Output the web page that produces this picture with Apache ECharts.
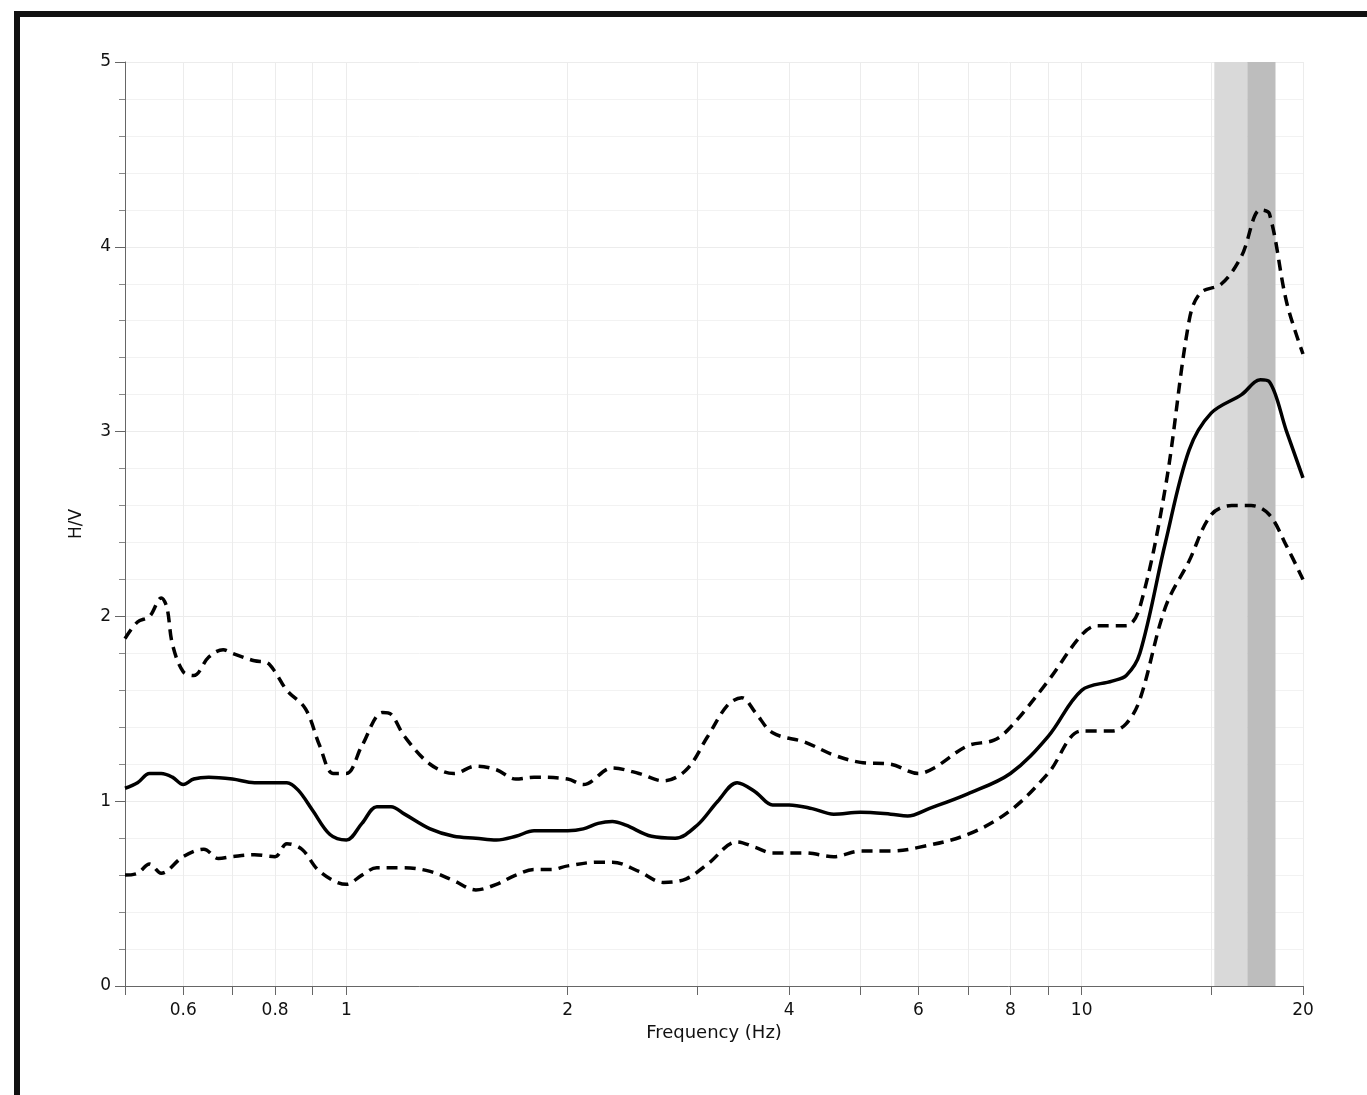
<!DOCTYPE html>
<html>
<head>
<meta charset="UTF-8">
<title>H/V</title>
<script src="https://cdn.jsdelivr.net/npm/echarts@6/dist/echarts.min.js"></script>
<style>
    body { margin: 0; padding: 0; background: #fff; }
    #chart { width: 1367px; height: 1095px; }
</style>
</head>
<body>
<div id="chart"></div>
<script>
// frequency (Hz) / H/V values
var meanPts = [[0.5,1.07],[0.52,1.1],[0.54,1.15],[0.56,1.15],[0.58,1.13],[0.6,1.09],[0.62,1.12],[0.65,1.13],[0.7,1.12],[0.75,1.1],[0.8,1.1],[0.83,1.1],[0.86,1.06],[0.9,0.95],[0.95,0.82],[1.0,0.79],[1.05,0.88],[1.1,0.97],[1.15,0.97],[1.2,0.93],[1.3,0.85],[1.4,0.81],[1.5,0.8],[1.6,0.79],[1.7,0.81],[1.8,0.84],[1.9,0.84],[2.0,0.84],[2.1,0.85],[2.2,0.88],[2.3,0.89],[2.4,0.87],[2.6,0.81],[2.8,0.8],[3.0,0.87],[3.2,1.0],[3.4,1.1],[3.6,1.05],[3.8,0.98],[4.0,0.98],[4.3,0.96],[4.6,0.93],[5.0,0.94],[5.5,0.93],[5.8,0.92],[6.2,0.96],[7,1.04],[8,1.15],[9,1.35],[10,1.6],[11,1.65],[11.5,1.68],[12,1.8],[13,2.4],[14,2.9],[15,3.1],[16.5,3.2],[17.5,3.28],[18,3.27],[19,3.0],[20,2.75]];
var upperPts = [[0.5,1.88],[0.52,1.97],[0.54,2.0],[0.56,2.1],[0.57,2.05],[0.58,1.85],[0.6,1.7],[0.62,1.68],[0.65,1.78],[0.68,1.82],[0.7,1.8],[0.75,1.76],[0.78,1.75],[0.8,1.7],[0.83,1.6],[0.88,1.5],[0.92,1.3],[0.96,1.15],[1.0,1.15],[1.05,1.3],[1.12,1.48],[1.15,1.47],[1.2,1.35],[1.3,1.2],[1.4,1.15],[1.5,1.19],[1.6,1.17],[1.7,1.12],[1.8,1.13],[2.0,1.12],[2.1,1.09],[2.3,1.18],[2.5,1.15],[2.7,1.11],[2.9,1.17],[3.1,1.35],[3.3,1.52],[3.45,1.56],[3.6,1.48],[3.8,1.37],[4.2,1.32],[4.6,1.25],[5.0,1.21],[5.5,1.2],[6.0,1.15],[6.3,1.18],[7,1.3],[7.6,1.33],[8,1.4],[9,1.65],[10,1.9],[10.5,1.95],[11.5,1.95],[12,2.05],[13,2.7],[14,3.6],[14.5,3.75],[15.5,3.8],[16.5,3.95],[17.5,4.2],[18,4.18],[19,3.7],[20,3.42]];
var lowerPts = [[0.5,0.6],[0.52,0.61],[0.54,0.66],[0.56,0.61],[0.6,0.7],[0.64,0.74],[0.67,0.69],[0.7,0.7],[0.75,0.71],[0.8,0.7],[0.83,0.77],[0.87,0.74],[0.92,0.62],[1.0,0.55],[1.05,0.6],[1.1,0.64],[1.2,0.64],[1.3,0.62],[1.4,0.57],[1.5,0.52],[1.6,0.55],[1.7,0.6],[1.8,0.63],[1.9,0.63],[2.0,0.65],[2.2,0.67],[2.3,0.67],[2.5,0.62],[2.7,0.56],[2.9,0.58],[3.1,0.66],[3.4,0.78],[3.6,0.75],[3.8,0.72],[4.2,0.72],[4.6,0.7],[5,0.73],[5.5,0.73],[6,0.75],[7,0.82],[8,0.95],[9,1.15],[10,1.38],[11,1.38],[11.5,1.42],[12,1.55],[13,2.05],[14,2.3],[15,2.55],[16,2.6],[17,2.6],[18,2.55],[19,2.38],[20,2.2]];
var xLabels = [0.6, 0.8, 1, 2, 4, 6, 8, 10, 20];
var xTicks = [0.5,0.6,0.7,0.8,0.9,1,2,3,4,5,6,7,8,9,10,15,20];
var xGrid = [0.6,0.7,0.8,0.9,1,2,3,4,5,6,7,8,9,10,15,20];
var bandLight = [15.15, 16.8];
var bandDark = [16.8, 18.35];

var font = 'DejaVu Sans';
var chart = echarts.init(document.getElementById('chart'));
var dashed = {color: '#000', width: 3.5, type: [11, 7]};

chart.setOption({
    animation: false,
    grid: {left: 125, right: 64, top: 62, bottom: 109},
    xAxis: {
        type: 'log', logBase: 10, min: 0.5, max: 20,
        name: 'Frequency (Hz)', nameLocation: 'middle', nameGap: 38,
        nameTextStyle: {fontFamily: font, fontSize: 18, color: '#111'},
        axisLine: {show: true, lineStyle: {color: '#666'}},
        axisTick: {show: true, inside: false, length: 9, customValues: xTicks, lineStyle: {color: '#666'}},
        axisLabel: {customValues: xLabels, fontFamily: font, fontSize: 17, color: '#111', margin: 16},
        splitLine: {show: false}
    },
    yAxis: {
        type: 'value', min: 0, max: 5, interval: 1,
        name: 'H/V', nameLocation: 'middle', nameGap: 40,
        nameTextStyle: {fontFamily: font, fontSize: 17, color: '#111'},
        axisLine: {show: true, lineStyle: {color: '#666'}},
        axisTick: {show: true, length: 10, lineStyle: {color: '#666'}},
        minorTick: {show: true, splitNumber: 5, length: 6, lineStyle: {color: '#888'}},
        axisLabel: {fontFamily: font, fontSize: 17, color: '#111', margin: 14},
        splitLine: {show: true, lineStyle: {color: '#ececec'}},
        minorSplitLine: {show: true, lineStyle: {color: '#f2f2f2'}}
    },
    graphic: [{
        type: 'rect', shape: {x: 17, y: 14, width: 1400, height: 1120},
        style: {fill: 'none', stroke: '#111', lineWidth: 6}, z: 100
    }],
    series: [
        {
            type: 'line', data: [], silent: true,
            markLine: {
                silent: true, symbol: 'none', label: {show: false},
                lineStyle: {color: '#ececec', width: 1, type: 'solid'},
                data: xGrid.map(function (v) { return {xAxis: v}; })
            },
            markArea: {
                silent: true,
                data: [
                    [{xAxis: bandLight[0], itemStyle: {color: '#d9d9d9'}}, {xAxis: bandLight[1]}],
                    [{xAxis: bandDark[0], itemStyle: {color: '#bdbdbd'}}, {xAxis: bandDark[1]}]
                ]
            }
        },
        {type: 'line', data: upperPts, smooth: 0.35, showSymbol: false, lineStyle: dashed, z: 5},
        {type: 'line', data: lowerPts, smooth: 0.35, showSymbol: false, lineStyle: dashed, z: 5},
        {type: 'line', data: meanPts, smooth: 0.35, showSymbol: false, lineStyle: {color: '#000', width: 3.5}, z: 6}
    ]
});
</script>
</body>
</html>
